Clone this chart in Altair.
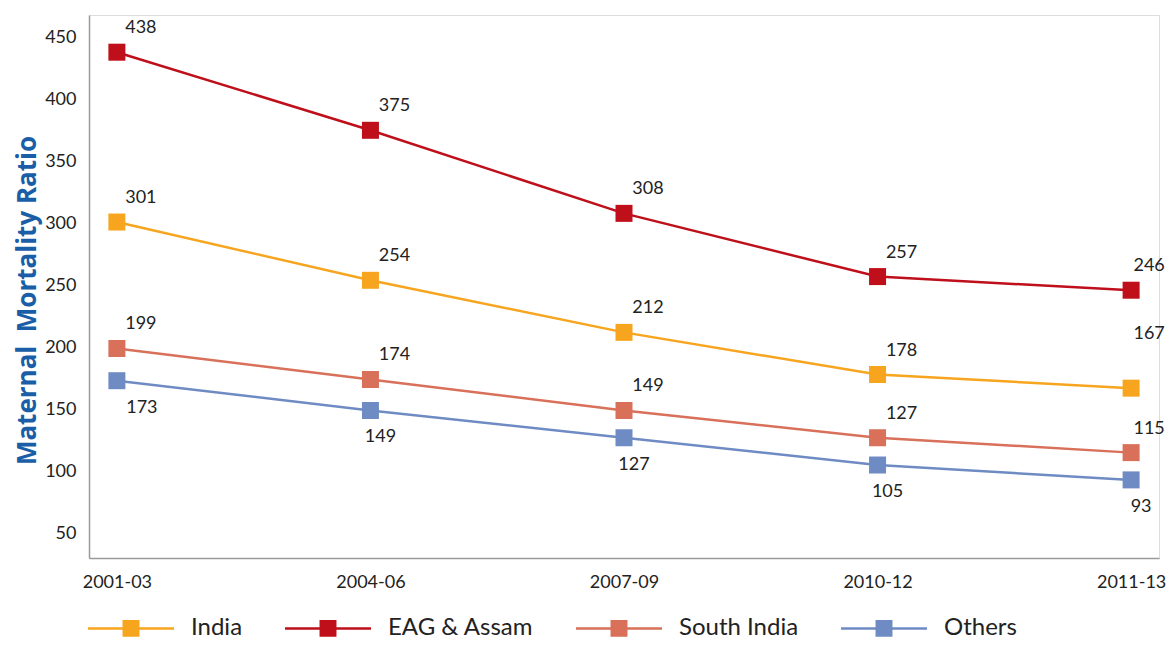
import altair as alt
import pandas as pd

periods = ["2001-03", "2004-06", "2007-09", "2010-12", "2011-13"]
series = ["India", "EAG & Assam", "South India", "Others"]
india = [301, 254, 212, 178, 167]
eag = [438, 375, 308, 257, 246]
south = [199, 174, 149, 127, 115]
others = [173, 149, 127, 105, 93]
colors = ["#F7A51E", "#BE0F1A", "#D8705A", "#6F8BC3"]
y_ticks = [50, 100, 150, 200, 250, 300, 350, 400, 450]

rows = []
for name, vals in zip(series, [india, eag, south, others]):
    for p, v in zip(periods, vals):
        rows.append({"period": p, "series": name, "value": v})
df = pd.DataFrame(rows)

FONT = "Lato"
TXT = "#222222"

x = alt.X("period:N", sort=periods,
          scale=alt.Scale(type="point", padding=0.11),
          axis=alt.Axis(title=None, labelAngle=0, ticks=False, labelPadding=15,
                        labelFontSize=18, labelColor=TXT, labelFont=FONT,
                        domainColor="#9a9a9a", domainWidth=1.5, grid=False))
y = alt.Y("value:Q", scale=alt.Scale(domain=[30, 468], nice=False, zero=False),
          axis=alt.Axis(title="Maternal\u00a0 Mortality Ratio", values=y_ticks, ticks=False,
                        labelPadding=13, labelFontSize=18, labelColor=TXT, labelFont=FONT,
                        domainColor="#9a9a9a", domainWidth=1.5, grid=False,
                        titleFont="Open Sans", titleFontSize=26, titleFontWeight="bold",
                        titleColor="#1a5ea8", titleX=-62, titleY=285,
                        titleAngle=270, titleAlign="center", titleBaseline="middle"))
color = alt.Color("series:N", sort=series,
                  scale=alt.Scale(domain=series, range=colors),
                  legend=alt.Legend(title=None, orient="none", direction="horizontal",
                                    legendX=30, legendY=601, padding=0,
                                    symbolType="M-5.06,0H5.06M-0.85,-0.85H0.85V0.85H-0.85Z",
                                    symbolSize=289, symbolStrokeWidth=2.5,
                                    labelOffset=48, columnPadding=36,
                                    labelFontSize=24, labelFont=FONT, labelColor=TXT,
                                    labelLimit=400))

base = alt.Chart(df).encode(x=x, y=y, color=color)

lines = base.mark_line(strokeWidth=2.5)
points = base.mark_square(size=289, opacity=1, filled=True)

txt = dict(fontSize=18, font=FONT, color=TXT)
text_enc = dict(text="value:Q")
LAST = "datum.period == '2011-13'"

above = base.transform_filter(
    f"datum.series != 'Others' && !({LAST})"
).mark_text(dx=24, dy=-24, **txt).encode(**text_enc, color=alt.value(TXT))

above_last = base.transform_filter(
    f"datum.series != 'Others' && datum.series != 'India' && {LAST}"
).mark_text(dx=18, dy=-24, **txt).encode(**text_enc, color=alt.value(TXT))

india_last = base.transform_filter(
    f"datum.series == 'India' && {LAST}"
).mark_text(dx=18, dy=-54, **txt).encode(**text_enc, color=alt.value(TXT))

others_first = base.transform_filter(
    "datum.series == 'Others' && datum.period == '2001-03'"
).mark_text(dx=25, dy=27, **txt).encode(**text_enc, color=alt.value(TXT))

others_rest = base.transform_filter(
    "datum.series == 'Others' && datum.period != '2001-03'"
).mark_text(dx=10, dy=27, **txt).encode(**text_enc, color=alt.value(TXT))

chart = alt.layer(lines, points, above, above_last, india_last,
                  others_first, others_rest).properties(
    width=1070, height=543,
    autosize=alt.AutoSizeParams(type="none"),
    padding={"left": 81, "top": 7, "right": 9, "bottom": 85},
).configure_view(stroke=None).configure(font=FONT)

chart.save("out.html", embed_options={"renderer": "svg", "actions": False})
